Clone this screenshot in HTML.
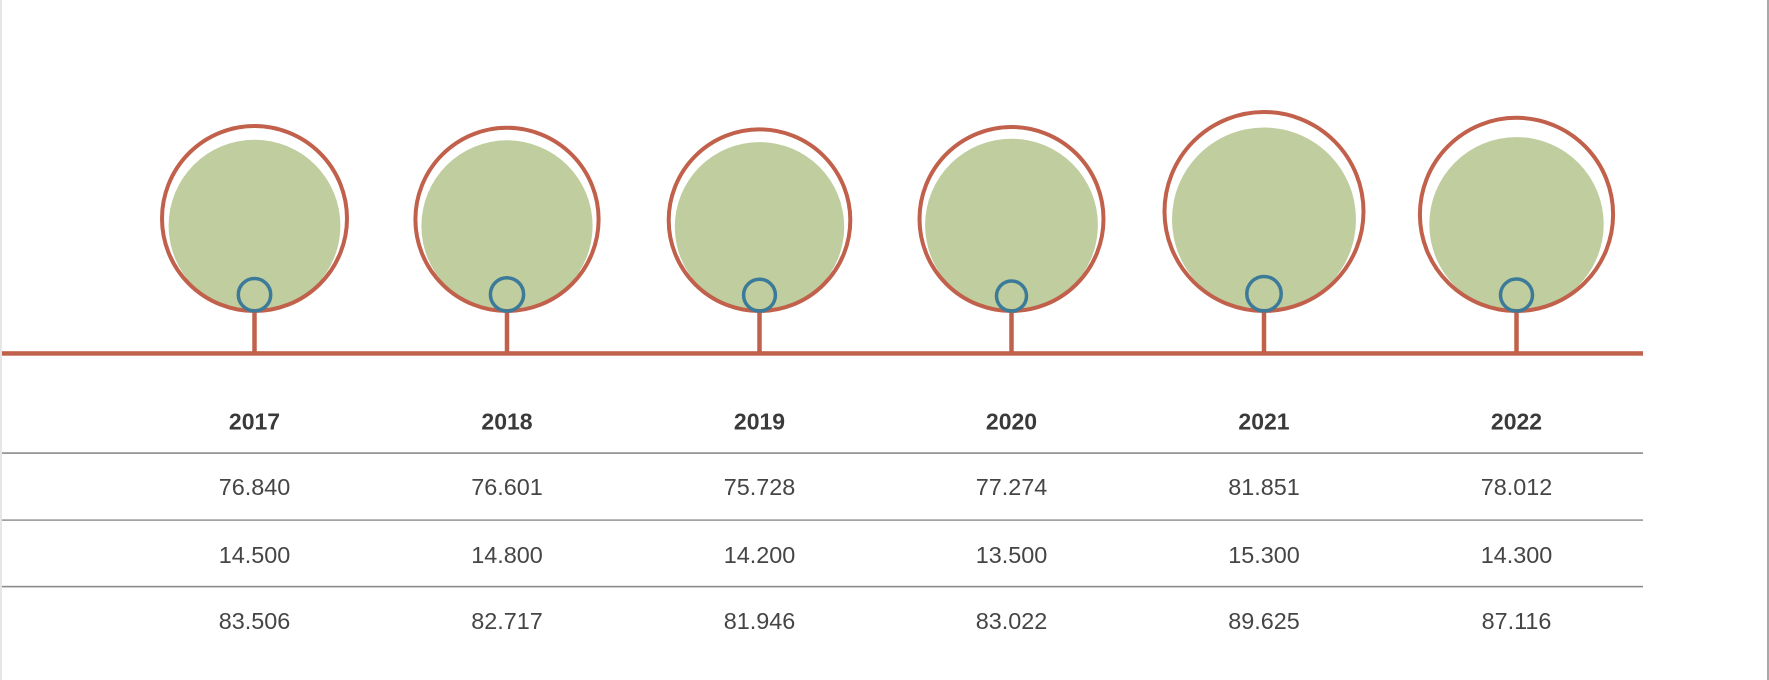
<!DOCTYPE html>
<html>
<head>
<meta charset="utf-8">
<style>
html,body{margin:0;padding:0;background:#fff;}
body{width:1769px;height:680px;overflow:hidden;}
svg{display:block;}
text{font-family:"Liberation Sans",Arial,sans-serif;}
</style>
</head>
<body>
<svg width="1769" height="680" viewBox="0 0 1769 680" xmlns="http://www.w3.org/2000/svg">
<rect x="0" y="0" width="1769" height="680" fill="#fff"/>
<rect x="0" y="0" width="2" height="680" fill="#e6e6e6"/>
<rect x="1767" y="0" width="2" height="680" fill="#a8a8a8"/>

<!-- green fills -->
<g fill="#bfcd9f">
<circle cx="254.5" cy="225.6" r="85.9"/>
<circle cx="507" cy="225.9" r="85.6"/>
<circle cx="759.5" cy="226.8" r="84.7"/>
<circle cx="1011.5" cy="225.1" r="86.4"/>
<circle cx="1264" cy="219.5" r="92"/>
<circle cx="1516.5" cy="224.3" r="87.2"/>
</g>

<!-- red outer circles -->
<g fill="none" stroke="#c1604b" stroke-width="4">
<circle cx="254.5" cy="218.5" r="92.5"/>
<circle cx="507" cy="219.4" r="91.6"/>
<circle cx="759.5" cy="220.2" r="90.8"/>
<circle cx="1011.5" cy="219.0" r="92.0"/>
<circle cx="1264" cy="211.5" r="99.5"/>
<circle cx="1516.5" cy="214.4" r="96.6"/>
</g>

<!-- stems -->
<g stroke="#c1604b" stroke-width="4.5">
<line x1="254.5" y1="311" x2="254.5" y2="354"/>
<line x1="507" y1="311" x2="507" y2="354"/>
<line x1="759.5" y1="311" x2="759.5" y2="354"/>
<line x1="1011.5" y1="311" x2="1011.5" y2="354"/>
<line x1="1264" y1="311" x2="1264" y2="354"/>
<line x1="1516.5" y1="311" x2="1516.5" y2="354"/>
</g>
<rect x="2" y="351.2" width="1641" height="4.5" fill="#c1604b"/>

<!-- blue rings -->
<g fill="none" stroke="#3b7a98" stroke-width="3.5">
<circle cx="254.5" cy="294.7" r="16.2"/>
<circle cx="507" cy="294.4" r="16.6"/>
<circle cx="759.5" cy="295.1" r="15.9"/>
<circle cx="1011.5" cy="296.0" r="15.0"/>
<circle cx="1264" cy="293.7" r="17.2"/>
<circle cx="1516.5" cy="295.0" r="16.0"/>
</g>

<!-- table lines -->
<g fill="#8a8a8a">
<rect x="2" y="452.3" width="1641" height="1.6"/>
<rect x="2" y="519.4" width="1641" height="1.4"/>
<rect x="2" y="585.8" width="1641" height="1.6"/>
</g>

<!-- headers -->
<g font-size="23" font-weight="bold" fill="#3a3a3a" text-anchor="middle">
<text x="254.5" y="429.5">2017</text>
<text x="507" y="429.5">2018</text>
<text x="759.5" y="429.5">2019</text>
<text x="1011.5" y="429.5">2020</text>
<text x="1264" y="429.5">2021</text>
<text x="1516.5" y="429.5">2022</text>
</g>

<g font-size="23.4" fill="#454545" text-anchor="middle">
<text x="254.5" y="494.8">76.840</text>
<text x="507" y="494.8">76.601</text>
<text x="759.5" y="494.8">75.728</text>
<text x="1011.5" y="494.8">77.274</text>
<text x="1264" y="494.8">81.851</text>
<text x="1516.5" y="494.8">78.012</text>

<text x="254.5" y="563">14.500</text>
<text x="507" y="563">14.800</text>
<text x="759.5" y="563">14.200</text>
<text x="1011.5" y="563">13.500</text>
<text x="1264" y="563">15.300</text>
<text x="1516.5" y="563">14.300</text>

<text x="254.5" y="629">83.506</text>
<text x="507" y="629">82.717</text>
<text x="759.5" y="629">81.946</text>
<text x="1011.5" y="629">83.022</text>
<text x="1264" y="629">89.625</text>
<text x="1516.5" y="629">87.116</text>
</g>
</svg>
</body>
</html>
